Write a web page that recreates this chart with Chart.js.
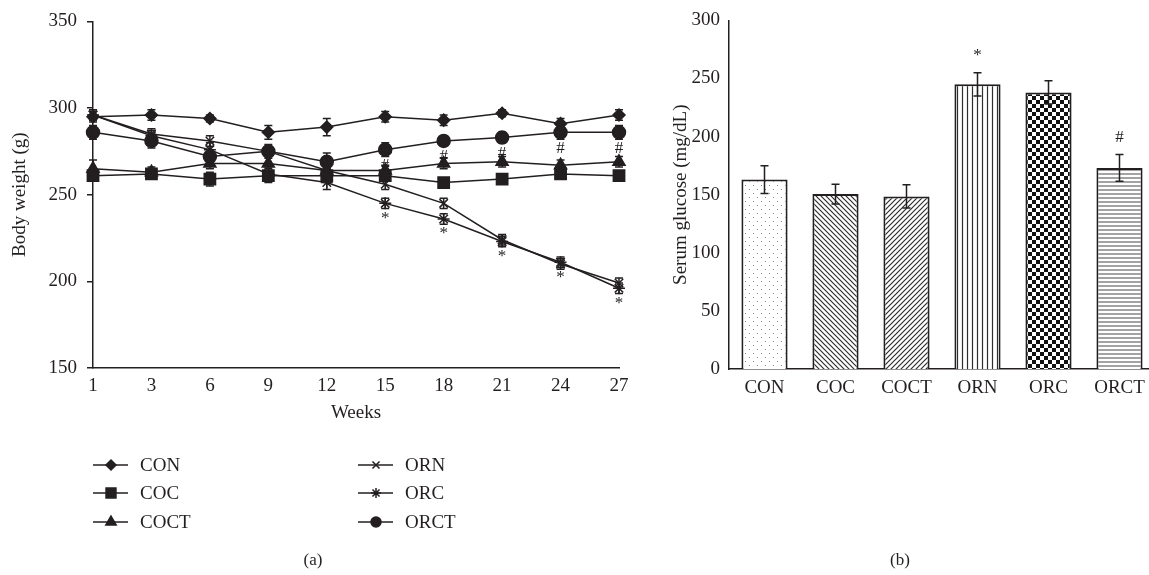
<!DOCTYPE html>
<html><head><meta charset="utf-8">
<script src="https://cdn.jsdelivr.net/npm/chart.js@4.4.1/dist/chart.umd.min.js"></script>
<style>
html,body{margin:0;padding:0;background:#fff;overflow:hidden;width:1149px;height:575px;}
#wa{position:absolute;left:0;top:0;width:640px;height:575px;}
#wb{position:absolute;left:640px;top:0;width:515px;height:575px;}
</style></head><body>
<div id="wa"><canvas id="ca" width="640" height="575"></canvas></div>
<div id="wb"><canvas id="cb" width="515" height="575"></canvas></div>
<script>
// ---------- Data: panel (a) body weight ----------
const weeks = ['1','3','6','9','12','15','18','21','24','27'];
const conW  = [295, 296, 294, 286, 289, 295, 293, 297, 291, 296];
const cocW  = [261, 262, 259, 261, 261, 261, 257, 259, 262, 261];
const coctW = [265, 263, 268, 268, 264, 264, 268, 269, 267, 269];
const ornW  = [296, 285, 281, 275, 264, 256, 245, 224, 210, 199];
const orcW  = [296, 284, 276, 262, 257, 245, 236, 223, 211, 196];
const orctW = [286, 281, 272, 275, 269, 276, 281, 283, 286, 286];
const conE  = [3, 3, 2, 4, 5, 3, 3, 2, 3, 3];
const cocE  = [3, 2, 4, 4, 4, 3, 2, 3, 2, 2];
const coctE = [5, 3, 3, 4, 3, 3, 3, 3, 3, 3];
const ornE  = [3, 3, 3, 3, 3, 3, 3, 3, 3, 3];
const orcE  = [3, 3, 4, 4, 4, 3, 3, 3, 3, 3];
const orctE = [4, 4, 4, 4, 5, 4, 3, 3, 4, 4];
const orcSig  = ['', '', '', '', '', '*', '*', '*', '*', '*'];
const orctSig = ['', '', '', '', '', '#', '#', '#', '#', '#'];
const weightTicks = [150, 200, 250, 300, 350];

// ---------- Data: panel (b) serum glucose ----------
const groups  = ['CON', 'COC', 'COCT', 'ORN', 'ORC', 'ORCT'];
const glucose = [163, 150.5, 148.5, 245, 238, 173];
const glucErr = [12, 8.5, 10, 10, 10, 11.5];
const glucSig = ['', '', '', '*', '', '#'];

const INK = '#231f20';
const FONT = "'Liberation Serif', 'Times New Roman', serif";
Chart.defaults.font.family = FONT;
Chart.defaults.font.size = 19;
Chart.defaults.color = INK;

function drawMarker(ctx, style, r, x, y) {
  if (Chart.helpers && Chart.helpers.drawPoint) {
    ctx.fillStyle = INK; ctx.strokeStyle = INK; ctx.lineWidth = 1.5;
    Chart.helpers.drawPoint(ctx, {pointStyle: style, radius: r, borderWidth: 1.5, rotation: 0}, x, y);
    return;
  }
  ctx.beginPath(); ctx.arc(x, y, r, 0, Math.PI * 2); ctx.fill();
}

const errorBars = {
  id: 'errorBars',
  afterDatasetsDraw(chart, args, opts) {
    const ctx = chart.ctx, ys = chart.scales.y;
    chart.data.datasets.forEach((ds, i) => {
      if (!ds.errors) return;
      const meta = chart.getDatasetMeta(i);
      meta.data.forEach((el, j) => {
        const v = ds.data[j], e = ds.errors[j];
        const x = el.x;
        const t = ys.getPixelForValue(v + e), b = ys.getPixelForValue(v - e);
        const c = opts.cap || 4;
        ctx.save();
        ctx.strokeStyle = INK; ctx.lineWidth = 1.5;
        ctx.beginPath();
        ctx.moveTo(x, t); ctx.lineTo(x, b);
        ctx.moveTo(x - c, t); ctx.lineTo(x + c, t);
        ctx.moveTo(x - c, b); ctx.lineTo(x + c, b);
        ctx.stroke();
        if (ds.sig && ds.sig[j]) {
          ctx.fillStyle = INK;
          ctx.font = '17px ' + FONT;
          ctx.textAlign = 'center';
          ctx.textBaseline = 'middle';
          if (opts.above) {
            ctx.fillText(ds.sig[j], x, t - 17);
          } else {
            const off = ds.sig[j] === '*' ? 15 : 16;
            ctx.fillText(ds.sig[j], x, el.y + off);
          }
        }
        ctx.restore();
      });
    });
  }
};

const captionPlugin = {
  id: 'caption',
  afterDraw(chart, args, opts) {
    const ctx = chart.ctx;
    ctx.save();
    ctx.fillStyle = INK;
    ctx.font = '17px ' + FONT;
    ctx.textAlign = 'center';
    ctx.textBaseline = 'middle';
    ctx.fillText(opts.text, opts.x, opts.y);
    ctx.restore();
  }
};

const legendPlugin = {
  id: 'customLegend',
  afterDraw(chart, args, opts) {
    if (!opts.items) return;
    const ctx = chart.ctx;
    const cols = [93, 358], rows = [465, 493, 522];
    opts.items.forEach((it, k) => {
      const x = cols[Math.floor(k / 3)], y = rows[k % 3];
      const ds = chart.data.datasets[it];
      ctx.save();
      ctx.strokeStyle = INK; ctx.lineWidth = 1.5;
      ctx.beginPath(); ctx.moveTo(x, y); ctx.lineTo(x + 35, y); ctx.stroke();
      drawMarker(ctx, ds.pointStyle, ds.legendRadius, x + 18, y);
      ctx.fillStyle = INK;
      ctx.font = '19px ' + FONT;
      ctx.textAlign = 'left'; ctx.textBaseline = 'middle';
      ctx.fillText(ds.label, x + 47, y + 1);
      ctx.restore();
    });
  }
};

function lineDs(label, data, errors, style, r, lr, sig) {
  return {
    label, data, errors, sig,
    pointStyle: style, pointRadius: r, pointHoverRadius: r, legendRadius: lr,
    borderColor: INK, backgroundColor: INK, pointBackgroundColor: INK,
    pointBorderColor: INK, pointBorderWidth: 1.5, borderWidth: 1.5, tension: 0, fill: false
  };
}

new Chart(document.getElementById('ca'), {
  type: 'line',
  data: {
    labels: weeks,
    datasets: [
      lineDs('CON', conW, conE, 'rectRot', 6, 5),
      lineDs('COC', cocW, cocE, 'rect', 8, 7),
      lineDs('COCT', coctW, coctE, 'triangle', 7, 6),
      lineDs('ORN', ornW, ornE, 'crossRot', 6, 5),
      lineDs('ORC', orcW, orcE, 'star', 6, 5, orcSig),
      lineDs('ORCT', orctW, orctE, 'circle', 6.5, 5, orctSig)
    ]
  },
  options: {
    responsive: false, animation: false,
    layout: {padding: {left: 0, right: 21, top: 15, bottom: 151}},
    plugins: {
      legend: {display: false}, tooltip: {enabled: false},
      errorBars: {cap: 4, above: false},
      customLegend: {items: [0, 1, 2, 3, 4, 5]},
      caption: {text: '(a)', x: 313, y: 561}
    },
    scales: {
      x: {
        type: 'category', offset: false,
        grid: {display: true, drawOnChartArea: false, drawTicks: false},
        border: {display: true, color: INK, width: 1.5},
        ticks: {padding: 7, maxRotation: 0, autoSkip: false},
        title: {display: true, text: 'Weeks', padding: {top: 0, bottom: 0}},
        afterFit(s) { s.height = 56; }
      },
      y: {
        min: 150, max: 350,
        afterBuildTicks(s) { s.ticks = weightTicks.map(v => ({value: v})); },
        grid: {display: true, drawOnChartArea: false, drawTicks: true, tickLength: 6, color: INK, lineWidth: 1.5},
        border: {display: true, color: INK, width: 1.5},
        ticks: {padding: 10},
        title: {display: true, text: 'Body weight (g)', padding: {top: 9, bottom: 0}},
        afterFit(s) { s.width = 93; }
      }
    }
  },
  plugins: [errorBars, legendPlugin, captionPlugin]
});

// ---------- Patterns for bars ----------
function makePattern(kind) {
  const c = document.createElement('canvas');
  const g = c.getContext('2d');
  let s = 5;
  if (kind === 'dots') s = 8;
  if (kind === 'check') s = 8;
  if (kind === 'hlines') s = 4;
  c.width = s; c.height = s;
  g.fillStyle = '#fff'; g.fillRect(0, 0, s, s);
  g.strokeStyle = '#2e2e2e'; g.lineWidth = 1.2;
  g.beginPath();
  if (kind === 'dots') {
    g.fillStyle = '#8a8a8a';
    g.fillRect(1, 1, 1, 1); g.fillRect(5, 5, 1, 1);
  } else if (kind === 'back') {
    g.moveTo(-1, -1); g.lineTo(s + 1, s + 1);
    g.moveTo(-1, s - 1); g.lineTo(1, s + 1);
    g.moveTo(s - 1, -1); g.lineTo(s + 1, 1);
  } else if (kind === 'fwd') {
    g.moveTo(-1, s + 1); g.lineTo(s + 1, -1);
    g.moveTo(-1, 1); g.lineTo(1, -1);
    g.moveTo(s - 1, s + 1); g.lineTo(s + 1, s - 1);
  } else if (kind === 'vlines') {
    g.moveTo(2.5, 0); g.lineTo(2.5, s);
  } else if (kind === 'hlines') {
    g.strokeStyle = '#666';
    g.moveTo(0, 2); g.lineTo(s, 2);
  } else if (kind === 'check') {
    g.fillStyle = '#111';
    g.fillRect(0, 0, 4, 4); g.fillRect(4, 4, 4, 4);
  }
  g.stroke();
  return g.createPattern(c, 'repeat');
}
const barFills = ['dots', 'back', 'fwd', 'vlines', 'check', 'hlines'].map(makePattern);

new Chart(document.getElementById('cb'), {
  type: 'bar',
  data: {
    labels: groups,
    datasets: [{
      label: 'Serum glucose', data: glucose, errors: glucErr, sig: glucSig,
      backgroundColor: barFills, borderColor: INK, borderWidth: 2,
      barPercentage: 0.65, categoryPercentage: 1.0
    }]
  },
  options: {
    responsive: false, animation: false,
    layout: {padding: {left: 0, right: 0, top: 17, bottom: 166}},
    plugins: {
      legend: {display: false}, tooltip: {enabled: false},
      errorBars: {cap: 4, above: true},
      caption: {text: '(b)', x: 260, y: 561}
    },
    scales: {
      x: {
        grid: {display: false, drawTicks: false},
        border: {display: true, color: INK, width: 1.5},
        ticks: {padding: 8, maxRotation: 0, autoSkip: false},
        afterFit(s) { s.height = 40; }
      },
      y: {
        min: 0, max: 300,
        ticks: {stepSize: 50, padding: 9},
        grid: {display: false, drawTicks: false},
        border: {display: true, color: INK, width: 1.5},
        title: {display: true, text: 'Serum glucose (mg/dL)', padding: {top: 30, bottom: 0}},
        afterFit(s) { s.width = 89; }
      }
    }
  },
  plugins: [errorBars, captionPlugin]
});
</script>
</body></html>
